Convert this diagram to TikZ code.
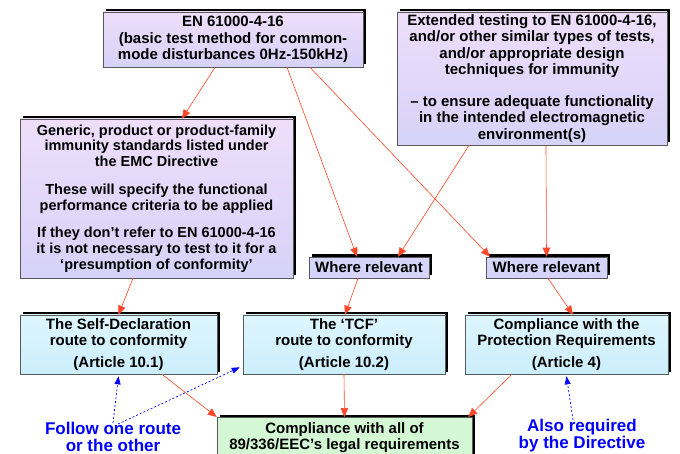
\documentclass[tikz,border=0pt]{standalone}
\usepackage{fontspec}
\setmainfont{Liberation Sans}
\usepackage{tikz}
\usetikzlibrary{arrows.meta,shadows}
\definecolor{lavtop}{RGB}{238,222,250}
\definecolor{lavbot}{RGB}{214,210,248}
\definecolor{wrfill}{RGB}{214,212,248}
\definecolor{cyantop}{RGB}{222,246,255}
\definecolor{cyanbot}{RGB}{204,238,252}
\definecolor{greenfill}{RGB}{212,248,212}
\definecolor{redline}{RGB}{255,70,40}
\definecolor{noteblue}{RGB}{0,0,255}

\begin{document}
\begin{tikzpicture}[x=1pt,y=-1pt]
\tikzstyle{box}=[draw=black!65,line width=0.6pt,inner sep=1pt,align=center,
  font=\bfseries\fontsize{15}{16.3}\selectfont,
  general shadow={fill=black,shadow xshift=2.5pt,shadow yshift=2.5pt}]
\tikzstyle{std}=[box,top color=lavtop,bottom color=lavbot]
\tikzstyle{wr}=[box,fill=wrfill,minimum height=21pt]
\tikzstyle{art}=[box,top color=cyantop,bottom color=cyanbot,minimum height=59pt]
\tikzstyle{goal}=[box,fill=greenfill]
\tikzstyle{note}=[text=noteblue,align=center,inner sep=0pt,font=\bfseries\fontsize{17}{17}\selectfont]
\tikzstyle{flow}=[draw=redline,line width=0.6pt,-{Triangle[length=9pt,width=7.5pt]}]
\tikzstyle{hint}=[draw=noteblue,line width=0.7pt,dash pattern=on 2pt off 2pt,
  -{Triangle[length=8pt,width=6pt]}]
\useasboundingbox (0,0) rectangle (680,454);

\node[std,minimum width=260pt,minimum height=55pt] (en) at (233,39.5)
  {EN 61000-4-16\\(basic test method for common-\\mode disturbances 0Hz-150kHz)};
\node[std,minimum width=270pt,minimum height=133pt] (ext) at (532,78.5)
  {Extended testing to EN 61000-4-16,\\and/or other similar types of tests,\\and/or appropriate design\\techniques for immunity\\[16pt]
   -- to ensure adequate functionality\\in the intended electromagnetic\\environment(s)};
\node[std,minimum width=273pt,minimum height=159pt,font=\bfseries\fontsize{14.5}{15.7}\selectfont] (gen) at (156.5,198.5)
  {Generic, product or product-family\\immunity standards listed under\\the EMC Directive\\[12pt]
   These will specify the functional\\performance criteria to be applied\\[12pt]
   If they don’t refer to EN 61000-4-16\\it is not necessary to test to it for a\\‘presumption of conformity’};
\node[wr,minimum width=120pt] (wr1) at (369,267.5) {Where relevant};
\node[wr,minimum width=121pt] (wr2) at (546.5,267.5) {Where relevant};
\node[art,minimum width=197pt] (sd) at (118.5,344.5)
  {The Self-Declaration\\route to conformity\\[5pt](Article 10.1)};
\node[art,minimum width=202pt] (tcf) at (344,344.5)
  {The ‘TCF’\\route to conformity\\[5pt](Article 10.2)};
\node[art,minimum width=203pt] (prot) at (566.5,344.5)
  {Compliance with the\\Protection Requirements\\[5pt](Article 4)};
\node[goal,minimum width=255pt,minimum height=41pt,anchor=north] (comp) at (344.5,417)
  {Compliance with all of\\89/336/EEC’s legal requirements};
\node[note] (n1) at (113,437) {Follow one route\\or the other};
\node[note] (n2) at (582,435.5) {Also required\\by the Directive};

\draw[flow] ([xshift=-18pt]en.south) -- ([xshift=25.5pt]gen.north);
\draw[flow] ([xshift=54pt]en.south) -- ([xshift=-12pt]wr1.north);
\draw[flow] ([xshift=77pt]en.south) -- ([xshift=-56.5pt]wr2.north);
\draw[flow] ([xshift=-63pt]ext.south) -- ([xshift=29pt]wr1.north);
\draw[flow] ([xshift=14pt]ext.south) -- (wr2.north);
\draw[flow] ([xshift=-11pt]wr1.south) -- ([xshift=1pt]tcf.north);
\draw[flow] ([xshift=1.5pt]wr2.south) -- ([xshift=6.5pt]prot.north);
\draw[flow] ([xshift=-23.5pt]gen.south) -- (sd.north);
\draw[flow] ([xshift=43.5pt]sd.south) -- (comp.north west);
\draw[flow] (tcf.south) -- (comp.north);
\draw[flow] ([xshift=-54.5pt]prot.south) -- ([xshift=-4pt]comp.north east);
\draw[hint] ([yshift=-1pt]n1.north) -- ([yshift=-2pt]sd.south);
\draw[hint] ([xshift=5pt,yshift=-2pt]n1.north) -- ([xshift=-3pt,yshift=7pt]tcf.south west);
\draw[hint] ([xshift=-9pt,yshift=-1pt]n2.north) -- ([yshift=-2pt]prot.south);
\end{tikzpicture}
\end{document}
